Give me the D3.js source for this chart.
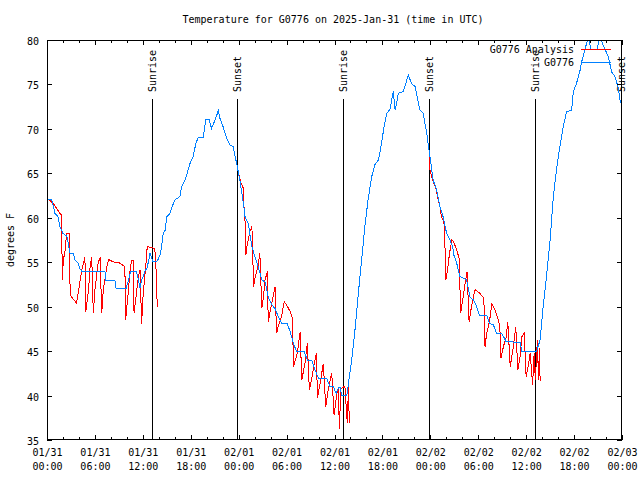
<!DOCTYPE html>
<html><head><meta charset="utf-8">
<script src="https://cdn.jsdelivr.net/npm/d3@7"></script>
<style>
body{margin:0;background:#fff}
svg{display:block}
text{font-family:"DejaVu Sans Mono",monospace;font-size:10px;fill:#000}
</style></head><body><svg id="c" width="640" height="480"></svg>
<script>
// ---------- data (hours after 2025-01-31 00:00 UTC, degrees F) ----------
const titleText = "Temperature for G0776 on 2025-Jan-31 (time in UTC)";
const yLabelText = "degrees F";
const seriesNames = ["G0776 Analysis", "G0776"];
const yTicks = [35, 40, 45, 50, 55, 60, 65, 70, 75, 80];
const xMajorHours = [0, 6, 12, 18, 24, 30, 36, 42, 48, 54, 60, 66, 72];
const xMinorHours = [2, 4, 8, 10, 14, 16, 20, 22, 26, 28, 32, 34, 38, 40, 44, 46, 50, 52, 56, 58, 62, 64, 68, 70];
const sunLabels = ["Sunrise", "Sunset", "Sunrise", "Sunset", "Sunrise", "Sunset"];
const sunHours = [13.19, 23.83, 37.1, 47.87, 61.15, 71.9];

const obsSeries = [
 [0,62.1],[0.6,62.0],[1.0,60.5],[1.4,60.1],[1.6,59.0],[2.0,58.25],[2.5,57.9],[2.7,56.9],[2.9,56.0],[3.3,56.0],
 [3.5,55.25],[3.9,54.9],[4.1,54.3],[4.35,54.0],[7.25,54.0],[7.35,53.0],[8.5,53.0],[8.65,52.0],[9.9,52.0],[10.2,53.0],
 [10.5,54.0],[11.2,53.9],[11.4,53.2],[11.65,52.1],[11.85,53.0],[12.05,53.4],[12.25,54.0],[12.5,54.3],[12.7,55.05],[12.9,56.0],
 [13.25,55.05],[13.75,55.05],[13.95,55.4],[14.15,55.8],[14.35,56.75],[14.55,58.25],[14.8,58.6],[15.0,60.1],[15.4,60.5],[15.6,61.1],
 [16.0,62.0],[16.65,62.4],[16.85,63.5],[17.3,64.25],[17.9,66.1],[18.3,66.9],[18.65,68.4],[18.95,69.05],[19.55,69.05],[19.9,71.1],
 [20.3,71.1],[20.6,70.05],[21.05,71.0],[21.45,72.05],[21.65,71.2],[22.05,70.25],[22.5,68.95],[22.9,68.2],[23.3,68.0],[23.75,66.1],
 [24.15,64.25],[24.6,61.6],[24.8,60.1],[25.2,59.4],[25.65,56.75],[26.05,55.6],[26.45,54.5],[26.9,53.0],[27.3,52.8],[27.7,51.1],
 [28.15,50.2],[28.55,49.8],[28.95,48.9],[29.4,48.1],[30.1,48.05],[30.45,47.2],[30.85,45.9],[31.25,44.95],[32.2,44.95],[32.6,44.0],
 [33.15,44.0],[33.55,42.9],[34.0,41.95],[35.0,41.95],[35.45,41.0],[35.85,41.0],[36.2,40.25],[36.5,40.9],[36.7,40.9],[36.9,40.05],
 [37.55,40.05],[37.75,41.4],[38.15,44.0],[38.55,47.25],[39.0,51.65],[39.4,55.25],[39.8,59.0],[40.2,62.0],[40.65,64.6],[41.05,65.95],
 [41.5,66.5],[41.9,68.4],[42.2,70.25],[42.55,71.75],[42.95,72.2],[43.35,74.2],[43.6,72.1],[44.0,74.0],[44.6,74.2],[45.25,76.05],
 [45.65,75.1],[46.1,74.75],[46.35,73.6],[46.7,72.1],[47.1,71.75],[47.55,69.5],[47.95,66.9],[48.35,64.25],[48.8,63.1],[49.2,61.25],
 [49.6,60.1],[49.85,59.0],[50.05,58.25],[50.45,57.5],[50.8,56.75],[50.95,55.8],[51.3,54.9],[51.7,53.4],[52.55,53.0],[52.95,51.1],
 [53.4,50.75],[53.8,50.0],[54.15,49.05],[55.05,49.05],[55.4,48.1],[55.9,47.95],[56.3,47.0],[56.95,47.0],[57.5,46.05],[59.25,46.0],
 [59.45,45.0],[61.3,45.0],[61.75,46.25],[62.15,50.2],[62.55,53.4],[63.0,57.5],[63.4,62.4],[63.8,65.4],[64.25,68.2],[64.65,70.25],
 [65.05,71.95],[65.7,72.1],[65.9,74.2],[66.3,75.1],[66.75,76.6],[66.95,77.55],[67.35,78.9],[67.8,80.4],[68.1,78.9],[68.85,78.9],
 [69.25,80.4],[69.6,79.5],[69.9,78.9],[70.3,78.1],[70.7,76.4],[71.1,75.9],[71.5,74.75],[71.75,73.25],[72.0,72.7]
];

const anaNight1 = [
 [0,62.2],[0.8,61.6],[1.6,60.5],[1.85,60.3],[1.9,53.0],[2.0,54.5],[2.05,55.25],[2.25,56.2],[2.45,58.25],[2.8,58.25],
 [2.9,51.3],[3.7,50.4],[3.9,51.5],[4.35,54.1],[4.75,55.6],[4.85,49.4],[5.2,51.9],[5.4,54.5],[5.6,55.55],[5.8,49.25],
 [6.0,51.9],[6.4,54.9],[6.65,55.55],[6.85,49.25],[7.05,51.9],[7.5,54.5],[7.7,55.3],[8.3,55.05],[9.15,54.9],[9.75,54.5],
 [9.85,48.5],[10.2,51.9],[10.4,54.1],[10.6,55.25],[10.8,55.25],[10.9,49.25],[11.25,51.9],[11.45,53.4],[11.65,54.1],[11.85,48.1],
 [12.05,51.5],[12.4,54.9],[12.55,56.75],[13.3,56.6],[13.5,56.6],[13.7,53.4],[13.8,50.0]
];
const anaNight2 = [
 [23.9,65.4],[24.3,63.9],[24.6,63.3],[24.65,61.45],[24.8,59.55],[24.9,55.8],[25.0,56.6],[25.2,57.5],[25.4,58.45],[25.65,59.0],
 [25.75,56.9],[25.85,52.25],[26.05,53.2],[26.25,53.95],[26.45,54.7],[26.65,56.0],[26.9,49.8],[27.1,51.1],[27.3,53.0],[27.6,53.95],
 [27.7,48.3],[27.9,49.25],[28.15,50.4],[28.55,52.25],[28.75,47.0],[28.95,47.75],[29.4,49.05],[29.7,50.55],[30.0,50.2],[30.45,49.45],
 [30.75,48.7],[30.85,43.25],[31.25,44.4],[31.45,45.5],[31.7,47.2],[31.9,41.75],[32.3,43.6],[32.6,45.9],[32.85,40.6],[33.15,41.95],
 [33.55,44.0],[33.75,44.75],[33.85,39.7],[34.2,41.4],[34.6,43.6],[34.9,38.75],[35.2,40.6],[35.65,42.55],[35.95,37.8],[36.3,40.25],
 [36.5,41.0],[36.6,36.2],[36.8,40.8],[37.3,41.05],[37.6,36.9],[37.75,41.0],[37.85,36.9]
];
const anaNight3 = [
 [47.85,67.0],[47.95,65.4],[48.35,64.05],[48.7,63.3],[49.0,62.0],[49.2,61.25],[49.4,60.1],[49.7,59.55],[49.85,56.4],[49.95,53.0],
 [50.15,54.1],[50.4,56.0],[50.7,57.5],[50.9,57.3],[51.3,56.4],[51.6,55.45],[51.8,49.25],[52.05,50.75],[52.35,52.6],[52.6,53.95],
 [52.85,48.3],[53.15,50.0],[53.4,51.1],[53.6,51.9],[54.2,51.5],[54.7,50.95],[54.85,45.5],[55.05,47.0],[55.4,48.3],[55.7,50.3],
 [56.1,49.6],[56.5,48.5],[56.7,47.75],[56.85,44.2],[57.15,45.5],[57.5,46.6],[57.7,48.3],[58.0,43.25],[58.4,45.5],[58.7,47.75],
 [58.95,42.9],[59.25,44.4],[59.45,46.6],[59.75,47.0],[60.0,42.1],[60.3,43.6],[60.5,44.75],[60.7,42.5],[60.8,41.2],[61.0,44.75],
 [61.15,41.75],[61.4,46.25],[61.55,41.75],[61.65,45.3],[61.75,41.6]
];
const anaNights = [anaNight1, anaNight2, anaNight3];

// ---------- chart ----------
const W = 640, H = 480;
const L = 47, R = 622, T = 40, B = 440;
const t0 = Date.UTC(2025, 0, 31, 0, 0);
const toDate = h => new Date(t0 + h * 3600e3);

const x = d3.scaleUtc().domain([toDate(0), toDate(72)]).range([L, R]);
const y = d3.scaleLinear().domain([35, 80]).range([B, T]);

const svg = d3.select("#c");
svg.append("rect").attr("width", W).attr("height", H).attr("fill", "#fff");

svg.append("defs").append("clipPath").attr("id", "clip")
  .append("rect").attr("x", L).attr("y", T).attr("width", R - L).attr("height", B - T);

// sunrise / sunset markers
const sun = svg.append("g");
sunHours.forEach((h, i) => {
  const sx = Math.round(x(toDate(h))) + 0.5;
  sun.append("line").attr("x1", sx).attr("x2", sx).attr("y1", 99).attr("y2", B)
    .attr("stroke", "#000").attr("stroke-width", 1).attr("shape-rendering", "crispEdges");
  sun.append("text").attr("transform", `translate(${sx + 3.5},92) rotate(-90)`)
    .attr("text-anchor", "start").text(sunLabels[i]);
});

const line = d3.line().x(d => x(toDate(d[0]))).y(d => y(d[1]));
const plot = svg.append("g").attr("clip-path", "url(#clip)");
anaNights.forEach(seg => {
  plot.append("path").attr("d", line(seg)).attr("fill", "none")
    .attr("stroke", "#ff0000").attr("stroke-width", 1).attr("shape-rendering", "crispEdges");
});
plot.append("path").attr("d", line(obsSeries)).attr("fill", "none")
  .attr("stroke", "#0080ff").attr("stroke-width", 1).attr("shape-rendering", "crispEdges");

// axes
const majorDates = xMajorHours.map(toDate);
const minorDates = xMinorHours.map(toDate);
const fD = d3.utcFormat("%m/%d"), fT = d3.utcFormat("%H:%M");

function styleAxis(g) {
  g.select(".domain").remove();
  g.selectAll(".tick line").attr("stroke", "#000").attr("shape-rendering", "crispEdges");
  g.selectAll("text").attr("font-family", null).attr("font-size", null).attr("fill", "#000");
}

const xb = svg.append("g").attr("transform", `translate(0,${B})`)
  .call(d3.axisBottom(x).tickValues(majorDates).tickSize(-5).tickFormat(() => ""));
styleAxis(xb);
xb.selectAll(".tick text").each(function (d) {
  const t = d3.select(this).attr("y", null).attr("dy", null);
  t.append("tspan").attr("x", 0).attr("y", 16).text(fD(d));
  t.append("tspan").attr("x", 0).attr("y", 30).text(fT(d));
});
styleAxis(svg.append("g").attr("transform", `translate(0,${B})`)
  .call(d3.axisBottom(x).tickValues(minorDates).tickSize(-3).tickFormat("")));
styleAxis(svg.append("g").attr("transform", `translate(0,${T})`)
  .call(d3.axisTop(x).tickValues(majorDates).tickSize(-5).tickFormat("")));
styleAxis(svg.append("g").attr("transform", `translate(0,${T})`)
  .call(d3.axisTop(x).tickValues(minorDates).tickSize(-3).tickFormat("")));

const yl = svg.append("g").attr("transform", `translate(${L},0)`)
  .call(d3.axisLeft(y).tickValues(yTicks).tickSize(-5).tickPadding(8));
styleAxis(yl);
yl.selectAll(".tick text").attr("dy", "0.45em");
styleAxis(svg.append("g").attr("transform", `translate(${R},0)`)
  .call(d3.axisRight(y).tickValues(yTicks).tickSize(-5).tickFormat("")));

// border
svg.append("rect").attr("x", L + 0.5).attr("y", T + 0.5).attr("width", R - L - 1).attr("height", B - T - 1)
  .attr("fill", "none").attr("stroke", "#000").attr("stroke-width", 1).attr("shape-rendering", "crispEdges");

// title and y label
svg.append("text").attr("x", 333).attr("y", 23).attr("text-anchor", "middle").text(titleText);
svg.append("text").attr("transform", "translate(14,240) rotate(-90)").attr("text-anchor", "middle").text(yLabelText);

// legend
const legColors = ["#ff0000", "#0080ff"];
seriesNames.forEach((n, i) => {
  const ly = 49.5 + i * 13;
  svg.append("text").attr("x", 574).attr("y", ly + 3.5).attr("text-anchor", "end").text(n);
  svg.append("line").attr("x1", 581).attr("x2", 611).attr("y1", ly).attr("y2", ly)
    .attr("stroke", legColors[i]).attr("stroke-width", 1).attr("shape-rendering", "crispEdges");
});
</script></body></html>
